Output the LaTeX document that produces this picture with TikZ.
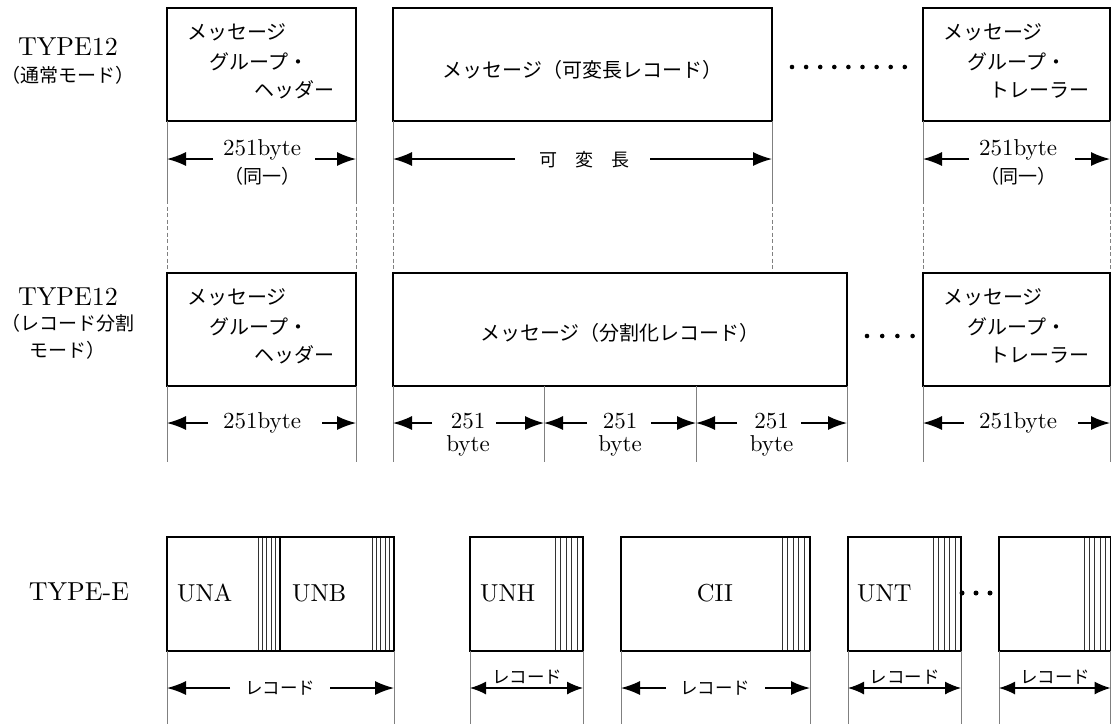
\documentclass[tikz,border=0pt]{standalone}
\usepackage{fontspec}
\newfontfamily\jp{Noto Sans CJK JP}
\newfontfamily\lmten{lmroman10-regular.otf}
\usetikzlibrary{arrows.meta}
% #1 tip left, #2 tip right, #3 y, #4 end of left segment, #5 start of right segment, #6 name
\newcommand\mydimgap[6]{%
  \coordinate (#6l) at (#1,#3); \coordinate (#6r) at (#2,#3);
  \coordinate (#6a) at (#4,#3); \coordinate (#6b) at (#5,#3);
  \draw[dimar] (#6a) -- (#6l);
  \draw[dimar] (#6b) -- (#6r);}
\newcommand\mydimfull[4]{%
  \coordinate (#4l) at (#1,#3); \coordinate (#4r) at (#2,#3);
  \draw[dimar2] (#4l) -- (#4r);}
% hatch: x0 x1 ytop ybot
\newcommand\myhatch[4]{%
  \foreach \i in {0,...,4} {\draw[hat] ({#1+(#2-#1)*\i/5},#3) -- ({#1+(#2-#1)*\i/5},#4);}}
\begin{document}
\begin{tikzpicture}[x=1pt,y=-1pt,
  boxst/.style={draw=black,line width=1.4pt},
  ext/.style={draw=black!50,line width=0.9pt},
  extdash/.style={draw=black!50,line width=0.9pt,dash pattern=on 4pt off 2.5pt},
  dimar/.style={line width=1.4pt,-{Latex[length=19pt,width=14pt]}},
  dimar2/.style={line width=1.3pt,{Latex[length=16pt,width=13pt]}-{Latex[length=16pt,width=13pt]}},
  hat/.style={draw=black!80,line width=0.7pt},
  jtext/.style={font=\jp\fontsize{20}{24}\selectfont,inner sep=0pt},
  jsmall/.style={font=\jp\fontsize{19}{23}\selectfont,inner sep=0pt},
  jrec/.style={font=\jp\fontsize{17.5}{21}\selectfont,inner sep=0pt},
  ltype/.style={font=\lmten\fontsize{26}{30}\selectfont,inner sep=0pt},
  lun/.style={font=\lmten\fontsize{24.5}{29}\selectfont,inner sep=0pt},
  lbyte/.style={font=\lmten\fontsize{23}{28}\selectfont,inner sep=0pt},
  dotst/.style={circle,fill=black,inner sep=0pt,minimum size=4.6pt}
]
\useasboundingbox (0,0) rectangle (1112,724);

% ---------------- Row 1 ----------------
\node[ltype] (lab1) at (68,47) {TYPE12};
\node[jsmall] (lab1b) at (68,75) {（通常モード）};

\draw[boxst] (167,8) rectangle (356,121);
\draw[boxst] (393,8) rectangle (772,121);
\draw[boxst] (923,8) rectangle (1110,121);

\node[jtext,anchor=west] (h1a) at (187,32) {メッセージ};
\node[jtext,anchor=west] (h1b) at (209,62) {グループ・};
\node[jtext,anchor=east] (h1c) at (335,90) {ヘッダー};
\node[jtext] (m1) at (582.5,70) {メッセージ（可変長レコード）};
\foreach \i in {0,...,8} {\node[dotst] (da\i) at ({792+\i*14.1},67) {};}
\node[jtext,anchor=west] (t1a) at (943,32) {メッセージ};
\node[jtext,anchor=west] (t1b) at (967,62) {グループ・};
\node[jtext,anchor=east] (t1c) at (1090,90) {トレーラー};

\foreach \x in {167,356,393,772,923,1110} {
  \draw[ext] (\x,121) -- (\x,200);
  \draw[extdash] (\x,200) -- (\x,273);
}

\mydimgap{167}{356}{159}{213}{315}{ra}
\node[lbyte] (ra1) at (262,150) {251byte};
\node[jsmall] (ra2) at (262,176) {（同一）};
\mydimgap{393}{772}{159}{515}{650}{rb}
\node[font=\jp\fontsize{18}{22}\selectfont,inner sep=0pt] (rb1) at (584,160) {可　変　長};
\mydimgap{923}{1110}{159}{969}{1075}{rc}
\node[lbyte] (rc1) at (1018,150) {251byte};
\node[jsmall] (rc2) at (1018,176) {（同一）};

% ---------------- Row 2 ----------------
\node[ltype] (lab2) at (68,297) {TYPE12};
\node[jsmall] (lab2b) at (68,323) {（レコード分割};
\node[jsmall] (lab2c) at (68,350) {モード）};

\draw[boxst] (167,273) rectangle (356,386);
\draw[boxst] (393,273) rectangle (847,386);
\draw[boxst] (923,273) rectangle (1110,386);

\node[jtext,anchor=west] (h2a) at (187,297) {メッセージ};
\node[jtext,anchor=west] (h2b) at (209,327) {グループ・};
\node[jtext,anchor=east] (h2c) at (335,355) {ヘッダー};
\node[jtext] (m2) at (620,333) {メッセージ（分割化レコード）};
\foreach \i in {0,...,3} {\node[dotst] (db\i) at ({867+\i*15.2},336) {};}
\node[jtext,anchor=west] (t2a) at (943,297) {メッセージ};
\node[jtext,anchor=west] (t2b) at (967,327) {グループ・};
\node[jtext,anchor=east] (t2c) at (1090,355) {トレーラー};

\foreach \x in {167,356,393,544,696,847,923,1110} {
  \draw[ext] (\x,386) -- (\x,462);
}

\mydimgap{167}{356}{423}{208}{322}{sa}
\node[lbyte] (sa1) at (262,423) {251byte};
\mydimgap{393}{544}{423}{432}{496}{sb}
\node[lbyte] (sb1) at (468,421) {251};
\node[lbyte] (sb2) at (468,446) {byte};
\mydimgap{544}{696}{423}{587}{651}{sc}
\node[lbyte] (sc1) at (620,421) {251};
\node[lbyte] (sc2) at (620,446) {byte};
\mydimgap{696}{847}{423}{737}{801}{sd}
\node[lbyte] (sd1) at (771.5,421) {251};
\node[lbyte] (sd2) at (771.5,446) {byte};
\mydimgap{923}{1110}{423}{964}{1078}{se}
\node[lbyte] (se1) at (1018,423) {251byte};

% ---------------- Row 3 ----------------
\node[ltype] (lab3) at (79,592) {TYPE-E};

\myhatch{258}{280}{537}{651}
\myhatch{372}{394}{537}{651}
\myhatch{555}{583}{537}{651}
\myhatch{782}{810}{537}{651}
\myhatch{933}{961}{537}{651}
\myhatch{1084}{1110.5}{537}{651}
\draw[boxst] (167,537) rectangle (280,651);
\draw[boxst] (280,537) rectangle (394,651);
\draw[boxst] (470,537) rectangle (583,651);
\draw[boxst] (621,537) rectangle (810,651);
\draw[boxst] (848,537) rectangle (961,651);
\draw[boxst] (999,537) rectangle (1110.5,651);

\node[lun,anchor=west] (una) at (177,593) {UNA};
\node[lun,anchor=west] (unb) at (292,593) {UNB};
\node[lun,anchor=west] (unh) at (480,593) {UNH};
\node[lun] (cii) at (715,593) {CII};
\node[lun,anchor=west] (unt) at (857,593) {UNT};
\foreach \i in {0,...,2} {\node[dotst,minimum size=5pt] (dc\i) at ({962+\i*14},593) {};}

\foreach \x in {167,394,470,583,621,810,848,961,999,1110.5} {
  \draw[ext] (\x,651) -- (\x,724);
}

\mydimgap{167}{394}{688}{230}{330}{ua}
\node[jrec] (ua1) at (280,688) {レコード};
\mydimfull{470}{583}{688}{ub}
\node[jrec] (ub1) at (527,677) {レコード};
\mydimgap{621}{810}{688}{666}{765}{uc}
\node[jrec] (uc1) at (715,688) {レコード};
\mydimfull{848}{961}{688}{ud}
\node[jrec] (ud1) at (904.5,677) {レコード};
\mydimfull{999}{1110.5}{688}{ue}
\node[jrec] (ue1) at (1055,677) {レコード};
\end{tikzpicture}
\end{document}
